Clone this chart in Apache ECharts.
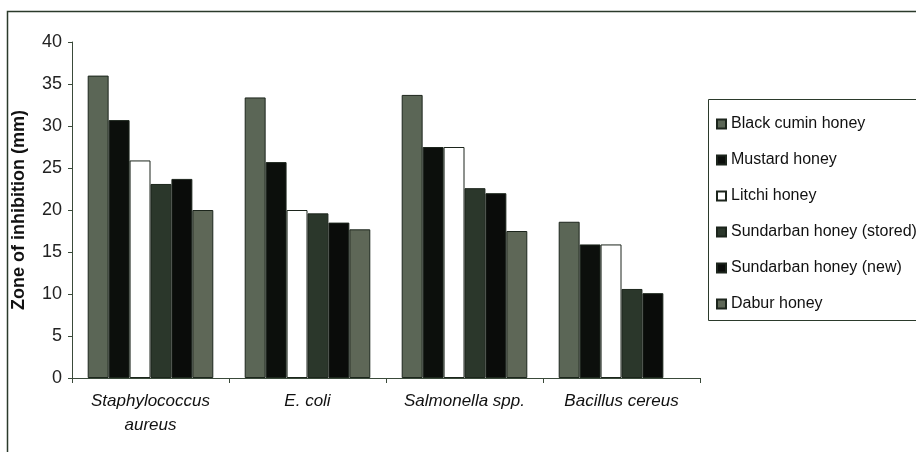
<!DOCTYPE html>
<html>
<head>
<meta charset="utf-8">
<script src="https://cdn.jsdelivr.net/npm/echarts@6/dist/echarts.min.js"></script>
<style>html,body{margin:0;padding:0;background:#fff;}#c{width:916px;height:452px;}</style>
</head>
<body>
<div id="c"></div>
<script>
var categories = ['Staphylococcus\naureus', 'E. coli', 'Salmonella spp.', 'Bacillus cereus'];
var seriesNames = ['Black cumin honey', 'Mustard honey', 'Litchi honey', 'Sundarban honey (stored)', 'Sundarban honey (new)', 'Dabur honey'];
var blackCumin = [36.0, 33.4, 33.7, 18.6];
var mustard = [30.7, 25.7, 27.5, 15.9];
var litchi = [25.9, 20.0, 27.5, 15.9];
var sundarbanStored = [23.1, 19.6, 22.6, 10.6];
var sundarbanNew = [23.7, 18.5, 22.0, 10.1];
var dabur = [20.0, 17.7, 17.5, null];
var yTicks = [0, 5, 10, 15, 20, 25, 30, 35, 40];

var values = [blackCumin, mustard, litchi, sundarbanStored, sundarbanNew, dabur];
var colors = ['#5b6656', '#0c0f0c', '#ffffff', '#2b372b', '#0a0c0a', '#5e6757'];

var chart = echarts.init(document.getElementById('c'));
var series = seriesNames.map(function (n, i) {
  return {
    name: n,
    type: 'bar',
    data: values[i],
    barGap: '0%',
    barCategoryGap: '20%',
    itemStyle: { color: colors[i], borderColor: '#1c251c', borderWidth: 1 }
  };
});
chart.setOption({
  animation: false,
  backgroundColor: '#ffffff',
  grid: { left: 72, right: 216, top: 42, bottom: 74 },
  legend: {
    orient: 'vertical',
    left: 711,
    top: 110,
    itemWidth: 9,
    itemHeight: 9,
    itemGap: 18,
    icon: 'rect',
    textStyle: { fontFamily: 'Liberation Sans, Arial, sans-serif', fontSize: 16, color: '#111', lineHeight: 18 },
    data: seriesNames
  },
  xAxis: {
    type: 'category',
    data: categories,
    axisLine: { lineStyle: { color: '#3a4a3a', width: 1 } },
    axisTick: { show: true, interval: 0, length: 5, lineStyle: { color: '#3a4a3a' } },
    axisLabel: {
      interval: 0,
      fontFamily: 'Liberation Sans, Arial, sans-serif',
      fontStyle: 'italic',
      fontSize: 17,
      color: '#111',
      margin: 11,
      lineHeight: 24
    }
  },
  yAxis: {
    type: 'value',
    min: yTicks[0],
    max: yTicks[yTicks.length - 1],
    interval: 5,
    name: 'Zone of inhibition (mm)',
    nameLocation: 'middle',
    nameRotate: 90,
    nameGap: 44,
    nameTextStyle: { fontFamily: 'Liberation Sans, Arial, sans-serif', fontWeight: 'bold', fontSize: 18, color: '#111' },
    splitLine: { show: false },
    axisLine: { show: true, lineStyle: { color: '#3a4a3a', width: 1 } },
    axisTick: { show: true, length: 4, lineStyle: { color: '#3a4a3a' } },
    axisLabel: {
      fontFamily: 'Liberation Sans, Arial, sans-serif',
      fontSize: 18,
      color: '#222',
      margin: 10
    }
  },
  graphic: [
    { type: 'rect', shape: { x: 7.5, y: 11.5, width: 940, height: 480 }, style: { fill: 'none', stroke: '#2b3a2b', lineWidth: 1.5 }, silent: true },
    { type: 'rect', shape: { x: 708.5, y: 99.5, width: 240, height: 221 }, style: { fill: 'none', stroke: '#2b3a2b', lineWidth: 1 }, silent: true }
  ],
  series: series
});
</script>
</body>
</html>
